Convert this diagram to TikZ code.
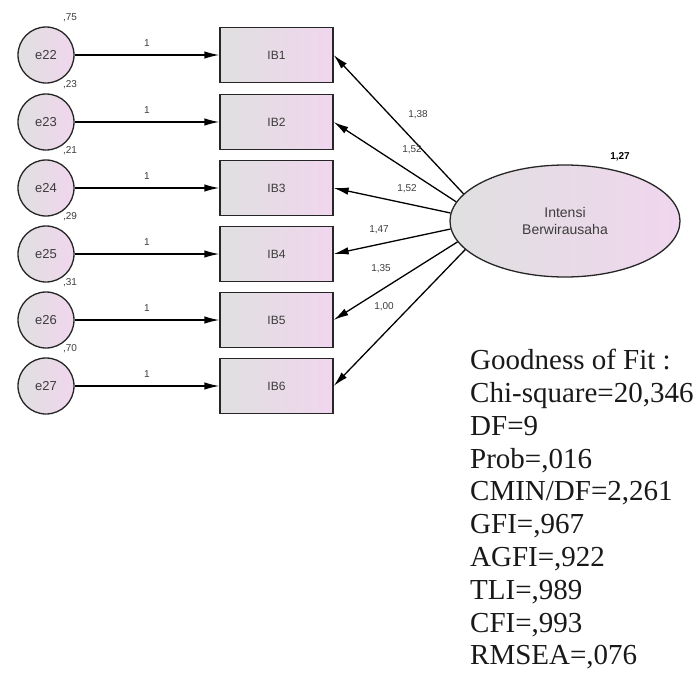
\documentclass[tikz,border=0pt]{standalone}
\usepackage{fontspec}
\setmainfont{Liberation Serif}
\setsansfont{Liberation Sans}
\usetikzlibrary{arrows.meta,shapes.geometric}
\definecolor{shadeL}{RGB}{224,224,224}
\definecolor{shadeR}{RGB}{240,214,238}
\definecolor{inkgray}{RGB}{60,60,60}
\tikzset{
  errnode/.style={circle, draw=black!85, line width=1.3pt, minimum size=56pt, inner sep=0pt,
    left color=shadeL, right color=shadeR, font=\sffamily\fontsize{13}{13}\selectfont, text=inkgray},
  obsnode/.style={rectangle, draw=black!85, line width=1.3pt, minimum width=113pt, minimum height=55pt,
    inner sep=0pt, left color=shadeL, right color=shadeR, font=\sffamily\fontsize{12}{12}\selectfont, text=inkgray},
  latnode/.style={ellipse, draw=black!85, line width=1.3pt, minimum width=230pt, minimum height=112pt,
    inner sep=0pt, left color=shadeL, right color=shadeR, align=center,
    font=\sffamily\fontsize{14}{17}\selectfont, text=inkgray},
  pathline/.style={line width=1.3pt, -{Latex[length=15pt,width=7.5pt]}},
  est/.style={font=\sffamily\fontsize{10}{10}\selectfont, text=inkgray, inner sep=0pt},
  fitline/.style={font=\fontsize{29}{32.8}\selectfont, align=left, anchor=north west, inner sep=0pt, text=black!90}
}
\begin{document}
\begin{tikzpicture}[x=1pt,y=-1pt]
  \useasboundingbox (0,0) rectangle (699,686);
  % error terms and indicators
  \foreach \i/\y/\v in {1/55/{,75},2/122/{,23},3/188/{,21},4/254/{,29},5/320/{,31},6/386/{,70}}{
    \pgfmathtruncatemacro{\en}{21+\i}
    \node[errnode] (e\i) at (46,\y) {e\en};
    \node[obsnode] (ib\i) at (276.5,\y) {IB\i};
    \node[est] (v\i) at (70,\y-37) {\v};
    \draw[pathline] (e\i) -- (ib\i) node[est, midway, above=8pt] {1};
  }
  % latent construct
  \node[latnode] (lat) at (565,221) {Intensi\\Berwirausaha};
  \node[est, font=\sffamily\bfseries\fontsize{10}{10}\selectfont, text=black] (latvar) at (620,157) {1,27};
  % loadings, fanning out from the left side of the ellipse
  \draw[pathline] (lat.165) -- (ib1.east);
  \draw[pathline] (lat.170) -- (ib2.east);
  \draw[pathline] (lat.176) -- (ib3.east);
  \draw[pathline] (lat.184) -- (ib4.east);
  \draw[pathline] (lat.191) -- (ib5.east);
  \draw[pathline] (lat.196) -- (ib6.east);
  \node[est] (l1) at (418,115) {1,38};
  \node[est] (l2) at (412,150) {1,52};
  \node[est] (l3) at (407,189) {1,52};
  \node[est] (l4) at (379,230) {1,47};
  \node[est] (l5) at (381,269) {1,35};
  \node[est] (l6) at (384,307) {1,00};
  % fit statistics
  \node[fitline] (fit) at (470,349) {Goodness of Fit :\\Chi-square=20,346\\DF=9\\Prob=,016\\CMIN/DF=2,261\\GFI=,967\\AGFI=,922\\TLI=,989\\CFI=,993\\RMSEA=,076};
\end{tikzpicture}
\end{document}
